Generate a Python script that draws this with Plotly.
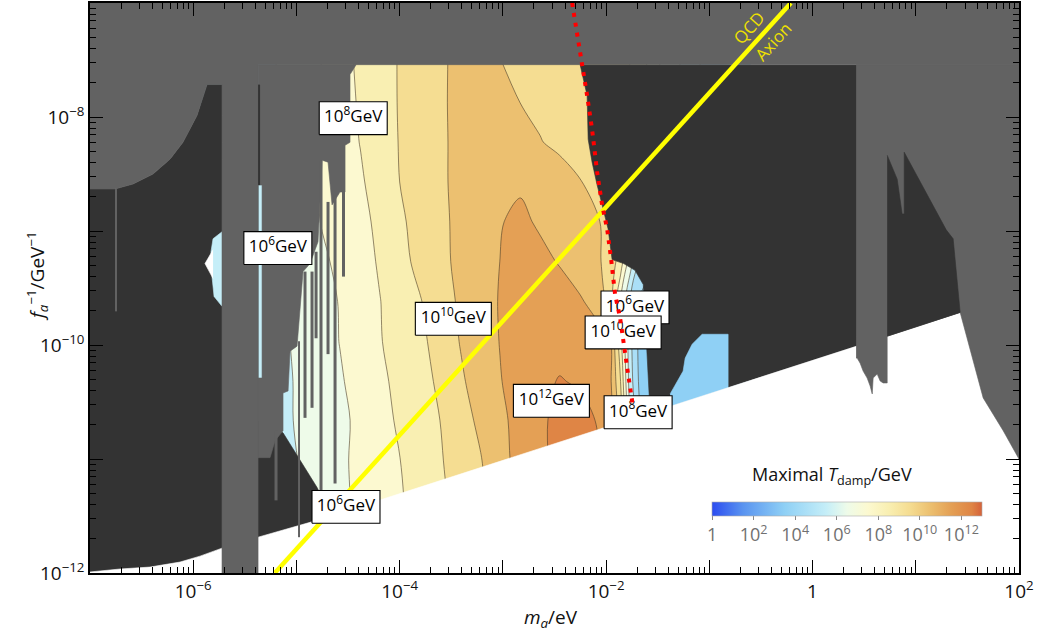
import numpy as np
import plotly.graph_objects as go

FONT = "Open Sans"
FIG_W, FIG_H = 1039, 641
MARGIN = dict(l=90, r=20, t=1, b=68)
PLOT_W = FIG_W - MARGIN["l"] - MARGIN["r"]
PLOT_H = FIG_H - MARGIN["t"] - MARGIN["b"]

LOGM_RANGE = [-7.0, 2.0]      # log10(m_a / eV)
LOGF_RANGE = [-12.0, -7.0]    # log10(f_a^-1 / GeV^-1)

MID_GRAY = "#626262"
DARK_GRAY = "#333333"

# ---------------- maximal damping temperature, log10(T / GeV) ----------------
grid_logm = [-5.93, -5.37, -5.06, -4.77, -4.58, -4.38, -4.19, -4.00, -3.80, -3.61,
             -3.41, -3.22, -3.03, -2.83, -2.64, -2.45, -2.25, -2.06, -1.96, -1.86,
             -1.77, -1.67, -1.48, -1.09, -0.60]
grid_logf = [-7.44, -7.87, -8.22, -8.57, -8.92, -9.27, -9.62, -9.97, -10.32,
             -10.66, -11.01, -11.36, -12.00]
log_tdamp = [
    [5.3, 5.7, 6.25, 7.0, 7.65, 8.2, 8.63, 9.06, 9.43, 9.81, 10.3, 10.6, 9.95, 9.85, 9.8, 9.75, 9.7, 9.6, 9.5, 9.3, 9.0, 8.5, 7.0, 5.0, 3.5],
    [5.3, 5.7, 6.2, 6.9, 7.55, 8.12, 8.6, 9.06, 9.44, 9.83, 10.3, 10.75, 10.6, 9.98, 9.8, 9.75, 9.7, 9.6, 9.5, 9.3, 9.0, 8.5, 7.0, 5.0, 3.5],
    [5.3, 5.7, 6.2, 7.05, 7.55, 8.03, 8.55, 9.04, 9.44, 9.84, 10.25, 10.6, 10.85, 10.6, 10.04, 9.8, 9.75, 9.65, 9.55, 9.4, 9.1, 8.6, 7.0, 5.0, 3.5],
    [5.3, 5.7, 6.3, 7.05, 7.42, 7.88, 8.43, 9.0, 9.42, 9.84, 10.25, 10.55, 10.85, 10.9, 10.7, 10.4, 10.02, 9.8, 9.7, 9.5, 9.2, 8.6, 7.0, 5.0, 3.5],
    [5.3, 5.7, 6.3, 7.0, 7.33, 7.74, 8.22, 8.84, 9.34, 9.8, 10.22, 10.6, 10.96, 11.15, 10.9, 10.6, 10.3, 10.0, 9.85, 9.6, 9.2, 8.6, 7.0, 5.0, 3.5],
    [5.3, 5.6, 6.3, 6.8, 7.2, 7.65, 8.1, 8.7, 9.26, 9.78, 10.2, 10.6, 11.0, 11.3, 11.2, 10.95, 10.5, 10.05, 9.6, 8.5, 6.5, 5.0, 4.0, 3.5, 3.0],
    [5.3, 5.6, 6.0, 6.6, 7.05, 7.5, 7.98, 8.45, 8.95, 9.55, 10.15, 10.6, 11.05, 11.4, 11.5, 11.35, 11.1, 10.6, 9.5, 7.0, 5.0, 3.8, 3.5, 3.5, 3.0],
    [5.3, 5.6, 6.0, 6.6, 7.02, 7.5, 7.95, 8.36, 8.8, 9.35, 10.05, 10.55, 11.02, 11.4, 11.6, 11.7, 11.6, 11.3, 11.05, 8.3, 5.3, 3.6, 3.5, 3.5, 3.0],
    [5.3, 5.5, 5.95, 6.5, 6.9, 7.35, 7.8, 8.25, 8.7, 9.15, 9.85, 10.45, 10.95, 11.4, 11.8, 12.05, 11.9, 11.6, 11.2, 9.0, 5.5, 3.7, 3.6, 3.5, 3.0],
    [5.3, 5.5, 5.95, 6.45, 6.8, 7.2, 7.65, 8.15, 8.6, 9.0, 9.6, 10.2, 10.8, 11.3, 11.8, 12.3, 12.3, 11.9, 11.5, 9.5, 6.0, 4.0, 3.6, 3.5, 3.0],
    [5.3, 5.5, 5.85, 6.45, 6.85, 7.2, 7.6, 7.98, 8.5, 8.92, 9.4, 9.93, 10.7, 11.3, 11.8, 12.3, 12.4, 12.0, 11.5, 9.5, 6.0, 4.0, 3.6, 3.5, 3.0],
    [5.3, 5.5, 5.7, 6.3, 6.8, 7.2, 7.5, 7.9, 8.4, 8.85, 9.3, 9.8, 10.5, 11.2, 11.8, 12.3, 12.4, 12.0, 11.5, 9.5, 6.0, 4.0, 3.6, 3.5, 3.0],
    [5.3, 5.5, 5.7, 6.3, 6.8, 7.2, 7.5, 7.9, 8.4, 8.85, 9.3, 9.8, 10.5, 11.2, 11.8, 12.3, 12.4, 12.0, 11.5, 9.5, 6.0, 4.0, 3.6, 3.5, 3.0],
]
LEVEL_START, LEVEL_END, LEVEL_STEP = 3, 12, 1

# colour legend: log10(T / GeV) -> colour
cbar_logT = [0.0, 1.5, 3.5, 5.5, 6.5, 7.5, 8.5, 9.5, 10.5, 11.5, 12.5, 13.0]
cbar_colors = ["#2b4cf0", "#5a94f0", "#8fd0f5", "#c5eef8", "#eefbe9", "#fcf9d0",
               "#f9efb2", "#f5dd92", "#ecc070", "#e4a055", "#df8545", "#d5623a"]
cbar_tick_logT = [0, 2, 4, 6, 8, 10, 12]
cbar_tick_text = ["1", "10<sup>2</sup>", "10<sup>4</sup>", "10<sup>6</sup>",
                  "10<sup>8</sup>", "10<sup>10</sup>", "10<sup>12</sup>"]

# ---------------- constraint regions (log10 m, log10 f^-1) ----------------
# dark excluded region, low-mass side
dark_left_logm = [-7.0, -6.758, -6.583, -6.390, -6.225, -6.099, -5.963, -5.866, -5.372,
                  -5.372, -5.130, -4.800, -4.752, -4.752, -7.0]
dark_left_logf = [-8.632, -8.632, -8.588, -8.501, -8.370, -8.222, -7.986, -7.716, -7.716,
                  -10.665, -10.770, -11.250, -11.337, -12.0, -12.0]
# dark excluded region, high-mass side
dark_right_logm = [-2.252, -2.233, -2.184, -2.174, -2.136, -2.087, -2.039, -1.981, -1.942,
                   -1.830, -1.720, -1.640, -1.615, -1.598, -1.574, 1.430, 2.0, 2.0]
dark_right_logf = [-7.541, -7.611, -7.812, -8.195, -8.396, -8.597, -8.771, -8.981, -9.251,
                   -9.286, -9.345, -9.470, -9.880, -10.229, -10.595, -9.714, -9.548, -7.541]
# dark wedges under the high-mass bound
dark_spike_logm = [0.723, 0.752, 0.820, 0.868, 0.888, 0.888, 1.295, 1.362, 1.430, 0.723]
dark_spike_logf = [-8.335, -8.396, -8.545, -8.850, -8.850, -8.309, -8.990, -9.068, -9.714, -9.923]
# unconstrained (white) region below the lower bound
white_logm = [-7.1, -7.0, -6.709, -6.419, -6.128, -5.934, -5.721, -5.372, -4.800, 2.1, 2.1, -7.1]
white_logf = [-11.991, -11.991, -11.965, -11.948, -11.904, -11.852, -11.782, -11.686,
              -11.538, -9.522, -12.1, -12.1]
# mid-gray bounds: top band, low-mass curve, vertical band
gray_main_logm = [-7.0, 2.0, 2.0, -5.372, -5.372, -5.721, -5.721, -5.866, -5.963, -6.099,
                  -6.225, -6.390, -6.583, -6.758, -7.0]
gray_main_logf = [-7.0, -7.0, -7.541, -7.541, -12.0, -12.0, -7.716, -7.716, -7.986, -8.222,
                  -8.370, -8.501, -8.588, -8.632, -8.632]
# mid-gray comb over the low-mass edge of the coloured region
gray_comb_logm = [-5.372, -4.422, -4.481, -4.481, -4.529, -4.529, -4.578, -4.597, -4.655,
                  -4.694, -4.752, -4.791, -4.868, -4.936, -4.994, -5.062, -5.081, -5.130,
                  -5.130, -5.207, -5.256, -5.372, -5.372, -5.333, -5.333, -5.372]
gray_comb_logf = [-7.541, -7.541, -7.628, -8.222, -8.248, -8.658, -8.658, -8.684, -8.771,
                  -8.396, -8.379, -9.094, -9.286, -9.356, -10.010, -10.054, -10.403, -10.421,
                  -10.752, -10.839, -10.988, -10.988, -10.290, -10.290, -8.597, -8.597]
# mid-gray high-mass bound
gray_right_logm = [0.422, 2.0, 2.0, 1.847, 1.653, 1.527, 1.430, 0.723, 0.723, 0.684, 0.655,
                   0.626, 0.587, 0.578, 0.558, 0.529, 0.490, 0.461, 0.432, 0.422]
gray_right_logf = [-7.541, -7.541, -11.0, -10.752, -10.464, -10.028, -9.714, -9.923, -10.333,
                   -10.333, -10.316, -10.255, -10.290, -10.429, -10.360, -10.290, -10.229,
                   -10.159, -10.115, -10.115]
# narrow mid-gray exclusion strips (log10 m, top, bottom)
strip_logm = [-4.544, -4.626, -4.694, -4.762, -4.810, -4.849, -4.917, -4.975, -5.198, -6.748]
strip_top = [-8.248, -8.684, -8.745, -8.379, -9.182, -9.356, -9.356, -9.967, -10.752, -8.632]
strip_bottom = [-9.400, -11.215, -10.080, -11.363, -9.941, -10.551, -10.639, -11.686, -11.363, -9.705]
strip_width = [3, 3, 3, 3, 3, 3, 3, 2, 3, 2]
dark_strip_logm = [-5.362]
dark_strip_top = [-7.716]
dark_strip_bottom = [-8.597]

# isolated coloured patches
cyan_patch_logm = [-5.721, -5.808, -5.828, -5.818, -5.798, -5.721]
cyan_patch_logf = [-9.007, -9.068, -9.182, -9.400, -9.574, -9.661]
notch_logm = [-5.808, -5.886, -5.808]
notch_logf = [-9.164, -9.286, -9.417]
blue_patch_logm = [-1.380, -1.254, -1.234, -1.167, -1.070, -0.818, -0.818, -1.380]
blue_patch_logf = [-10.429, -10.229, -10.115, -9.993, -9.906, -9.906, -10.374, -10.539]

# QCD axion band and the red dotted bound
qcd_logm = [-5.21, -0.21]
qcd_logf = [-12.0, -7.0]
red_logm = [-2.329, -2.281, -2.233, -2.184, -2.136, -2.087, -2.039, -1.990, -1.952,
            -1.913, -1.864, -1.826, -1.787, -1.738]
red_logf = [-7.0, -7.262, -7.541, -7.812, -8.108, -8.483, -8.771, -8.981, -9.243,
            -9.557, -9.766, -10.028, -10.255, -10.551]

# contour labels
label_exp = [8, 6, 10, 12, 6, 10, 8, 6]
label_logm = [-4.45, -5.18, -3.48, -2.53, -1.72, -1.835, -1.69, -4.52]
label_logf = [-8.01, -9.15, -9.77, -10.49, -9.67, -9.89, -10.59, -11.42]


def to_lin(v):
    return 10 ** np.asarray(v, dtype=float)


def _rgb(h):
    h = h.lstrip("#")
    return [int(h[i:i + 2], 16) for i in (0, 2, 4)]


def color_at(v):
    v = min(max(v, cbar_logT[0]), cbar_logT[-1])
    for i in range(len(cbar_logT) - 1):
        a, b = cbar_logT[i], cbar_logT[i + 1]
        if a <= v <= b:
            t = (v - a) / (b - a)
            c0, c1 = _rgb(cbar_colors[i]), _rgb(cbar_colors[i + 1])
            c = [round(c0[k] + t * (c1[k] - c0[k])) for k in range(3)]
            return "rgb({},{},{})".format(*c)
    return cbar_colors[-1]


def region(logm, logf, color):
    return go.Scatter(x=to_lin(logm), y=to_lin(logf), mode="lines", fill="toself",
                      fillcolor=color, line=dict(color=color, width=0.6),
                      hoverinfo="skip", showlegend=False)


fig = go.Figure()

# filled contours: each band takes the legend colour at its midpoint
lo = LEVEL_START - 0.5 * LEVEL_STEP
hi = LEVEL_END + 0.5 * LEVEL_STEP
pts = sorted(set([lo, hi] + [v for v in cbar_logT if lo < v < hi]))
contour_scale = [[(v - lo) / (hi - lo), color_at(v)] for v in pts]

fig.add_trace(go.Contour(
    x=to_lin(grid_logm), y=to_lin(grid_logf), z=log_tdamp,
    autocontour=False,
    contours=dict(start=LEVEL_START, end=LEVEL_END, size=LEVEL_STEP,
                  coloring="fill", showlines=True),
    colorscale=contour_scale, showscale=False,
    line=dict(color="rgba(75,60,40,0.75)", width=0.8, smoothing=0.9),
    hoverinfo="skip",
))

fig.add_trace(region(dark_left_logm, dark_left_logf, DARK_GRAY))
fig.add_trace(region(dark_right_logm, dark_right_logf, DARK_GRAY))
fig.add_trace(region(cyan_patch_logm, cyan_patch_logf, color_at(5.5)))
fig.add_trace(region(notch_logm, notch_logf, "white"))
fig.add_trace(region(blue_patch_logm, blue_patch_logf, color_at(3.5)))
fig.add_trace(region(white_logm, white_logf, "white"))
fig.add_trace(region(gray_main_logm, gray_main_logf, MID_GRAY))
fig.add_trace(region(gray_comb_logm, gray_comb_logf, MID_GRAY))
fig.add_trace(region(gray_right_logm, gray_right_logf, MID_GRAY))
fig.add_trace(region(dark_spike_logm, dark_spike_logf, DARK_GRAY))

for xm, yt, yb, w in zip(strip_logm, strip_top, strip_bottom, strip_width):
    fig.add_trace(go.Scatter(x=to_lin([xm, xm]), y=to_lin([yt, yb]), mode="lines",
                             line=dict(color=MID_GRAY, width=w),
                             hoverinfo="skip", showlegend=False))
for xm, yt, yb in zip(dark_strip_logm, dark_strip_top, dark_strip_bottom):
    fig.add_trace(go.Scatter(x=to_lin([xm, xm]), y=to_lin([yt, yb]), mode="lines",
                             line=dict(color=DARK_GRAY, width=2),
                             hoverinfo="skip", showlegend=False))

# QCD axion line
fig.add_trace(go.Scatter(x=to_lin(qcd_logm), y=to_lin(qcd_logf), mode="lines",
                         line=dict(color="#ffff00", width=4.5),
                         hoverinfo="skip", showlegend=False))

# boxed contour labels
ppd_x = PLOT_W / (LOGM_RANGE[1] - LOGM_RANGE[0])
ppd_y = PLOT_H / (LOGF_RANGE[1] - LOGF_RANGE[0])
BOX_H = 33
for e, lm, lf in zip(label_exp, label_logm, label_logf):
    bw = 68 if e < 10 else 76
    hx, hy = 0.5 * bw / ppd_x, 0.5 * BOX_H / ppd_y
    fig.add_trace(go.Scatter(
        x=to_lin([lm - hx, lm + hx, lm + hx, lm - hx, lm - hx]),
        y=to_lin([lf - hy, lf - hy, lf + hy, lf + hy, lf - hy]),
        mode="lines", fill="toself", fillcolor="white",
        line=dict(color="black", width=1.1), hoverinfo="skip", showlegend=False))
    fig.add_trace(go.Scatter(
        x=to_lin([lm]), y=to_lin([lf]), mode="text",
        text=["10<sup>%d</sup>GeV" % e], textposition="middle center",
        textfont=dict(family=FONT, size=17, color="black"),
        hoverinfo="skip", showlegend=False))

# red dotted bound
fig.add_trace(go.Scatter(x=to_lin(red_logm), y=to_lin(red_logf), mode="lines",
                         line=dict(color="#ff0000", width=4, dash="4px,6px"),
                         hoverinfo="skip", showlegend=False))

# continuous colour legend
fig.add_trace(go.Scatter(
    x=[None], y=[None], mode="markers", hoverinfo="skip", showlegend=False,
    marker=dict(
        color=[0], cmin=cbar_logT[0], cmax=cbar_logT[-1], showscale=True,
        colorscale=[[v / cbar_logT[-1], c] for v, c in zip(cbar_logT, cbar_colors)],
        colorbar=dict(
            orientation="h", x=0.815, xanchor="center", y=0.124, yanchor="top",
            len=270, lenmode="pixels", thickness=14, thicknessmode="pixels",
            xpad=0, ypad=0, outlinewidth=0.6, outlinecolor="#aaaaaa",
            tickvals=cbar_tick_logT, ticktext=cbar_tick_text,
            ticks="outside", ticklen=4, tickcolor="#888888",
            tickfont=dict(family=FONT, size=18, color="#707070"),
        ),
    ),
))

# axes
def decade_label(e):
    if e == 0:
        return "1"
    return "10<sup>%s</sup>" % (("\u2212%d" % -e) if e < 0 else "%d" % e)


x_major_exp = list(range(-6, 3))
y_major_exp = list(range(-12, -7))
x_minor = [m * 10.0 ** e for e in range(-7, 2) for m in range(2, 10)]
y_minor = [m * 10.0 ** e for e in range(-12, -7) for m in range(2, 10)]

axis_common = dict(
    type="log", showline=True, linecolor="black", linewidth=1.5, mirror="allticks",
    ticks="inside", ticklen=13, tickwidth=1.2, tickcolor="black",
    showgrid=False, zeroline=False,
    tickfont=dict(family=FONT, size=19, color="#111111"),
)
fig.update_xaxes(
    range=LOGM_RANGE,
    tickmode="array", tickvals=[10.0 ** e for e in x_major_exp],
    ticktext=[decade_label(e) if e % 2 == 0 else "" for e in x_major_exp],
    minor=dict(tickmode="array", tickvals=x_minor, ticks="inside", ticklen=6,
               tickwidth=1, tickcolor="black", showgrid=False),
    **axis_common,
)
fig.update_yaxes(
    range=LOGF_RANGE,
    tickmode="array", tickvals=[10.0 ** e for e in y_major_exp],
    ticktext=[decade_label(e) if e % 2 == 0 else "" for e in y_major_exp],
    minor=dict(tickmode="array", tickvals=y_minor, ticks="inside", ticklen=6,
               tickwidth=1, tickcolor="black", showgrid=False),
    **axis_common,
)

annotations = [
    dict(x=-0.614, y=-7.218, xref="x", yref="y", text="QCD", showarrow=False,
         textangle=-48, font=dict(family=FONT, size=17, color="#eee000")),
    dict(x=-0.382, y=-7.340, xref="x", yref="y", text="Axion", showarrow=False,
         textangle=-48, font=dict(family=FONT, size=17, color="#eee000")),
    dict(x=0.799, y=0.171, xref="paper", yref="paper",
         text="Maximal <i>T</i><sub>damp</sub>/GeV", showarrow=False,
         xanchor="center", yanchor="middle",
         font=dict(family=FONT, size=18, color="#111111")),
    dict(x=0.496, y=-0.079, xref="paper", yref="paper", text="<i>m</i><sub><i>a</i></sub>/eV",
         showarrow=False, xanchor="center", yanchor="middle",
         font=dict(family=FONT, size=19, color="#111111")),
    dict(x=-0.057, y=0.521, xref="paper", yref="paper",
         text="<i>f</i><sub><i>a</i></sub><sup>\u22121</sup>/GeV<sup>\u22121</sup>",
         showarrow=False, textangle=-90, xanchor="center", yanchor="middle",
         font=dict(family=FONT, size=19, color="#111111")),
]

fig.update_layout(
    width=FIG_W, height=FIG_H, margin=MARGIN,
    plot_bgcolor="white", paper_bgcolor="white",
    showlegend=False, annotations=annotations,
    font=dict(family=FONT),
)

fig.write_html("out.html")
